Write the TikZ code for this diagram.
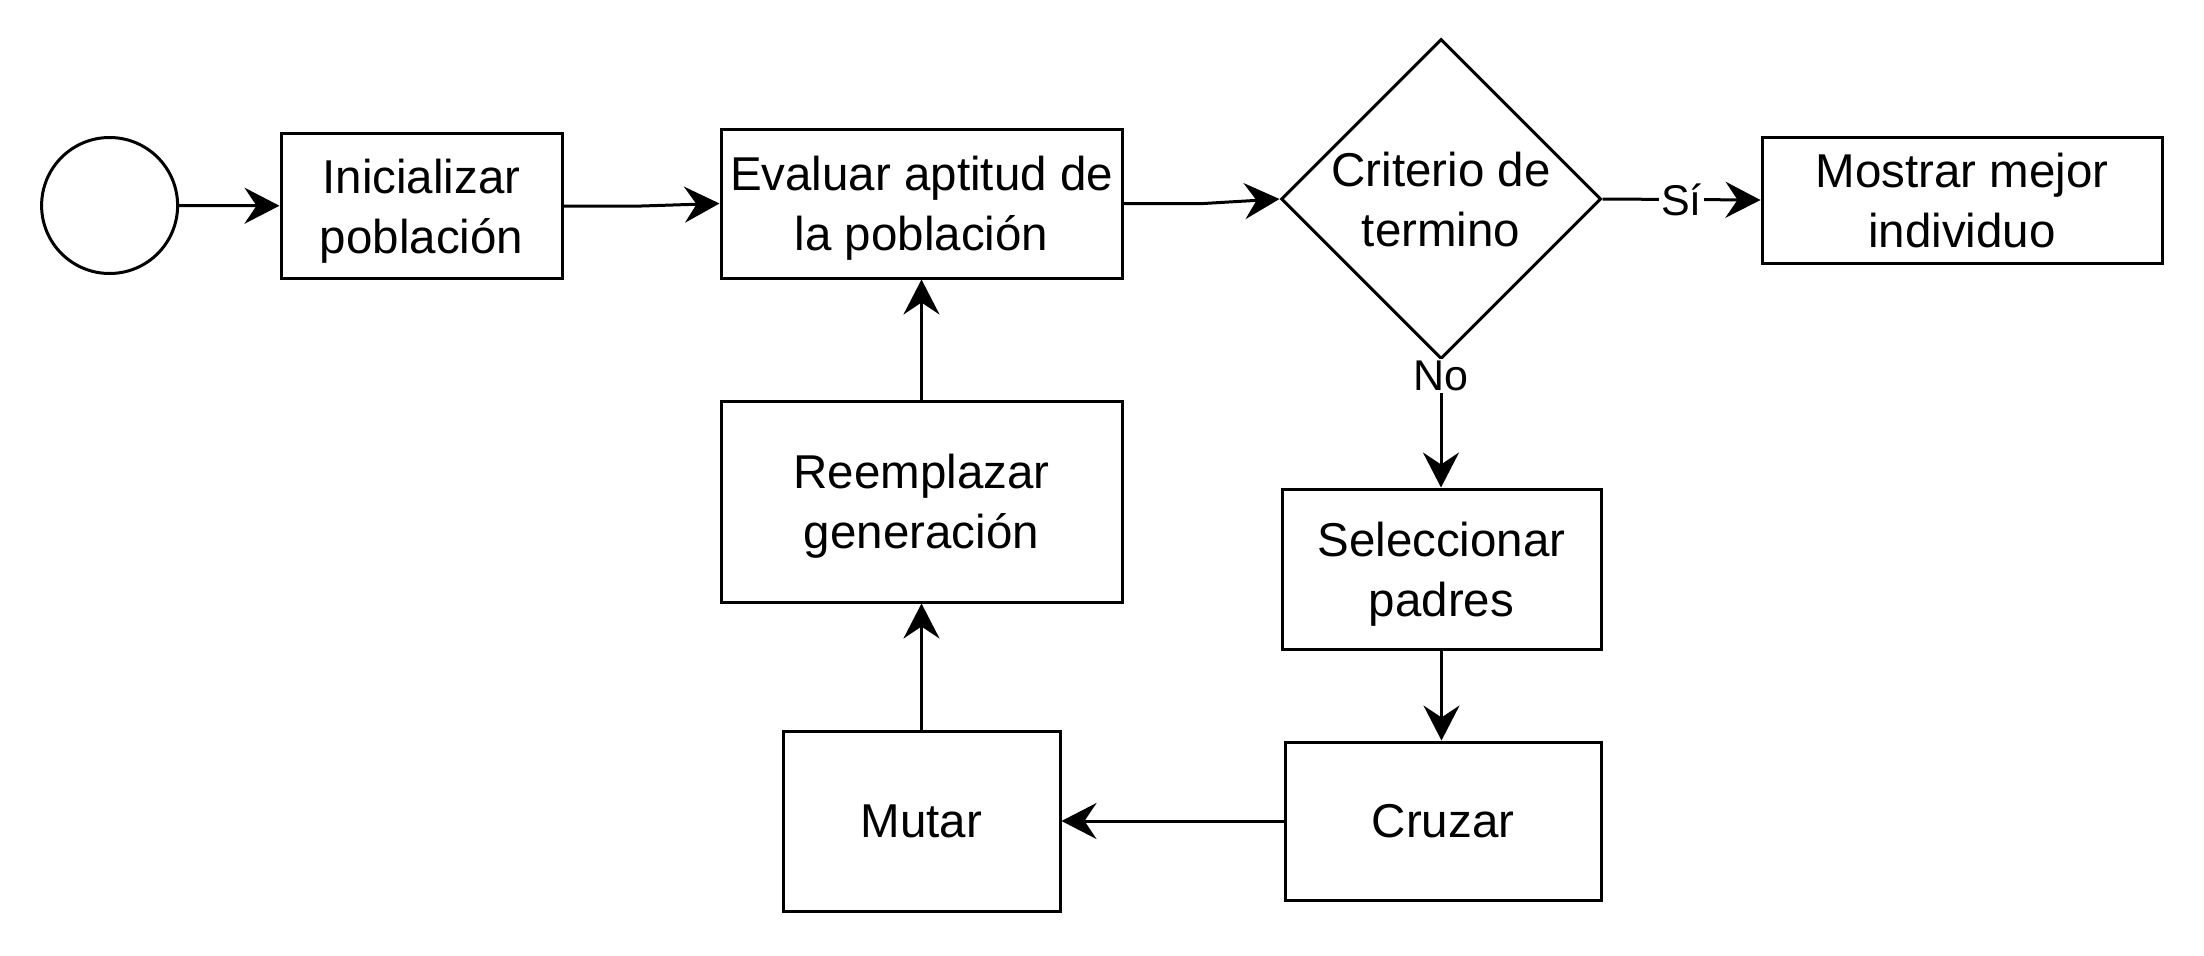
\documentclass[tikz,border=0pt]{standalone}
\usepackage{fontspec}
\setmainfont{Liberation Sans}
\usetikzlibrary{shapes.geometric,arrows.meta}
\begin{document}
\begin{tikzpicture}[x=1pt,y=-1pt,
  txt/.style={font=\fontsize{47.5}{60}\selectfont, align=center, text depth=0pt},
  box/.style={draw, line width=3pt, rectangle, inner sep=0pt, txt},
  dia/.style={draw, line width=3pt, diamond, inner sep=0pt, minimum width=320pt, minimum height=320pt},
  startc/.style={draw, line width=3pt, circle, minimum size=136pt, inner sep=0pt},
  elabel/.style={font=\fontsize{43}{52}\selectfont, fill=white, inner sep=2pt},
  conn/.style={line width=3pt, -{Stealth[length=35pt,width=36pt,inset=12pt]}}
]
\useasboundingbox (0,0) rectangle (2204,956);
\node[startc] (start) at (109.6,205.5) {};
\node[box, minimum width=281pt, minimum height=145pt] (init) at (421.5,206) {Inicializar\\población};
\node[box, minimum width=401pt, minimum height=149pt] (eval) at (921.5,203.5) {Evaluar aptitud de\\la población};
\node[dia, label={[txt]center:{Criterio de\\termino}}] (crit) at (1441,199) {};
\node[box, minimum width=400pt, minimum height=126pt] (show) at (1962,200) {Mostrar mejor\\individuo};
\node[box, minimum width=401pt, minimum height=201pt] (repl) at (921.5,501.5) {Reemplazar\\generación};
\node[box, minimum width=319pt, minimum height=160pt] (sel) at (1441.5,569) {Seleccionar\\padres};
\node[box, minimum width=316pt, minimum height=158pt] (cross) at (1443,821) {Cruzar};
\node[box, minimum width=277pt, minimum height=180pt] (mut) at (921.5,821) {Mutar};

\draw[conn] (start) -- (init);
\draw[conn] (init.east) -- ++(78pt,0) -- (eval.west);
\draw[conn] (eval.east) -- ++(80pt,0) -- (crit.west);
\draw[conn] (crit.east) -- node[elabel] (si) {Sí} (show.west);
\draw[conn] (crit.south) -- node[elabel, pos=0.12] (no) {No} (crit.south |- sel.north);
\draw[conn] (sel.south) -- (sel.south |- cross.north);
\draw[conn] (cross.west) -- (mut.east);
\draw[conn] (mut.north) -- (repl.south);
\draw[conn] (repl.north) -- (eval.south);
\end{tikzpicture}
\end{document}
